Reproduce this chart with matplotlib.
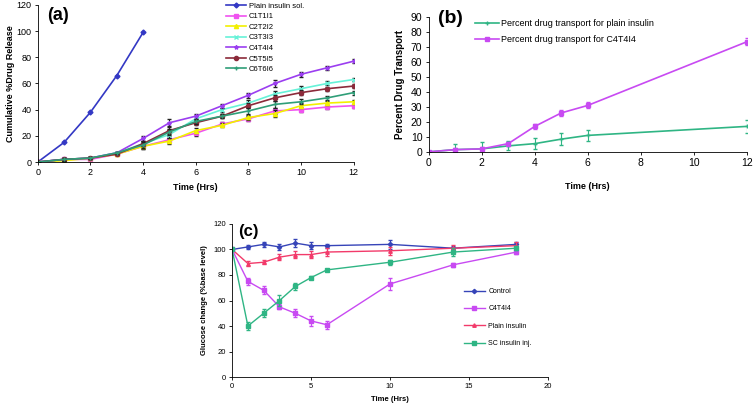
import matplotlib.pyplot as plt

plt.rcParams['font.family'] = ['Liberation Sans', 'DejaVu Sans']

# (a) cumulative release
t_a = [0, 1, 2, 3, 4, 5, 6, 7, 8, 9, 10, 11, 12]
plain_t = [0, 1, 2, 3, 4]
plain_sol = [0, 15, 38, 66, 99]
c1 = [0, 2, 2, 6, 12, 17, 22, 29, 33, 39, 40, 42, 43]
c2 = [0, 1, 3, 6, 12, 16, 24, 28, 34, 37, 43, 45, 46]
c3 = [0, 2, 3, 7, 14, 21, 33, 40, 45, 52, 56, 60, 63]
c4 = [0, 2, 3, 7, 18, 30, 35, 43, 51, 60, 67, 72, 77]
c5 = [0, 2, 3, 6, 14, 24, 30, 35, 43, 49, 53, 56, 58]
c6 = [0, 2, 3, 7, 13, 23, 31, 35, 39, 44, 46, 49, 53]
err_a = [0, 1, 1, 1, 2, 2.5, 2, 1.5, 2, 2.5, 2, 1.5, 1.5]

# (b) drug transport
t_b = [0, 1, 2, 3, 4, 5, 6, 12]
tr_plain = [0, 1.5, 2, 4, 5.5, 8.5, 11, 17]
tr_plain_err = [0, 3.5, 4.5, 3, 3.5, 4, 3.5, 4.5]
tr_c4 = [0, 1.5, 2, 5.5, 17, 26, 31, 73.5]
tr_c4_err = [0, 1, 1, 1, 1.5, 2, 2, 2.5]

# (c) glucose change
t_c = [0, 1, 2, 3, 4, 5, 6, 10, 14, 18]
control = [100, 102, 104, 102, 105, 103, 103, 104, 101, 104]
control_err = [0, 1.5, 2, 2.5, 3, 2.5, 1.5, 3.5, 1.5, 1.5]
gl_c4 = [100, 75, 68, 55, 50, 44, 41, 73, 88, 98]
gl_c4_err = [0, 2.5, 3, 2, 3, 4, 3, 4.5, 1.5, 1.5]
gl_plain = [100, 89, 90, 94, 96, 96, 98, 99, 101, 103]
gl_plain_err = [0, 2, 1.5, 2.5, 2.5, 3, 3, 3, 2.5, 2.5]
gl_sc = [100, 40, 50, 60, 71, 78, 84, 90, 98, 101]
gl_sc_err = [0, 3.5, 3, 4, 3, 1, 1, 2, 3, 1.5]

fig = plt.figure(figsize=(7.56, 4.05), dpi=100)


def style(ax, fs):
    ax.spines['top'].set_visible(False)
    ax.spines['right'].set_visible(False)
    ax.tick_params(labelsize=fs, length=2.5, width=0.6, pad=2)
    for s in ['left', 'bottom']:
        ax.spines[s].set_linewidth(0.6)


def line_err(ax, x, y, err, col, mk, ms, lw, lab, ecol=None):
    ax.errorbar(x, y, yerr=err, fmt='none', ecolor=ecol or col, elinewidth=0.8, capsize=1.5)
    ax.plot(x, y, color=col, marker=mk, ms=ms, lw=lw, label=lab)


# panel a
ax = fig.add_axes([0.050, 0.600, 0.418, 0.388])
ax.plot(plain_t, plain_sol, color='#3338c4', marker='D', ms=2.5, lw=1.2, label='Plain insulin sol.')
series = [
    (c1, '#f052f0', 's', 'C1T1I1'),
    (c2, '#f2f000', '^', 'C2T2I2'),
    (c3, '#66f2d8', 'x', 'C3T3I3'),
    (c4, '#9b3ef0', '*', 'C4T4I4'),
    (c5, '#8b2a3a', 'o', 'C5T5I5'),
    (c6, '#2f9e78', '+', 'C6T6I6'),
]
for ys, col, mk, lab in series:
    line_err(ax, t_a, ys, err_a, col, mk, 3, 1.2, lab, ecol='#222222')
ax.set_xlim(0, 12)
ax.set_ylim(0, 120)
ax.set_xticks(range(0, 13, 2))
ax.set_yticks(range(0, 121, 20))
ax.set_xlabel('Time (Hrs)', fontsize=6.5, fontweight='bold')
ax.set_ylabel('Cumulative %Drug Release', fontsize=6.5, fontweight='bold', labelpad=1)
ax.text(0.03, 0.985, '(a)', transform=ax.transAxes, fontsize=13, fontweight='bold', va='top')
ax.legend(loc='upper left', bbox_to_anchor=(0.585, 1.035), fontsize=5.5, frameon=False,
          handlelength=2.6, handletextpad=0.4, labelspacing=0.42, borderaxespad=0)
style(ax, 6.5)

# panel b
ax = fig.add_axes([0.567, 0.625, 0.421, 0.333])
line_err(ax, t_b, tr_plain, tr_plain_err, '#2fb584', '+', 3, 1.2,
         'Percent drug transport for plain insulin')
line_err(ax, t_b, tr_c4, tr_c4_err, '#c84af2', 's', 2.5, 1.2,
         'Percent drug transport for C4T4I4')
ax.set_xlim(0, 12)
ax.set_ylim(0, 90)
ax.set_xticks(range(0, 13, 2))
ax.set_yticks(range(0, 91, 10))
ax.set_xlabel('Time (Hrs)', fontsize=6.5, fontweight='bold', labelpad=10)
ax.set_ylabel('Percent Drug Transport', fontsize=7, fontweight='bold')
ax.text(0.03, 1.05, '(b)', transform=ax.transAxes, fontsize=14, fontweight='bold', va='top')
ax.legend(loc='upper left', bbox_to_anchor=(0.135, 1.01), fontsize=6.5, frameon=False,
          handlelength=2.6, handletextpad=0.3, labelspacing=0.8, borderaxespad=0)
style(ax, 7.5)

# panel c
ax = fig.add_axes([0.307, 0.069, 0.418, 0.378])
line_err(ax, t_c, control, control_err, '#3644b8', 'D', 2.2, 1.0, 'Control')
line_err(ax, t_c, gl_c4, gl_c4_err, '#c84af2', 's', 2.5, 1.0, 'C4T4I4')
line_err(ax, t_c, gl_plain, gl_plain_err, '#f23a6a', '^', 2.5, 1.0, 'Plain insulin')
line_err(ax, t_c, gl_sc, gl_sc_err, '#2fb584', 's', 2.5, 1.0, 'SC insulin inj.')
ax.set_xlim(0, 20)
ax.set_ylim(0, 120)
ax.set_xticks(range(0, 21, 5))
ax.set_yticks(range(0, 121, 20))
ax.set_xlabel('Time (Hrs)', fontsize=5.5, fontweight='bold')
ax.set_ylabel('Glucose change (%base level)', fontsize=5.5, fontweight='bold')
ax.text(0.02, 1.0, '(c)', transform=ax.transAxes, fontsize=12, fontweight='bold', va='top')
ax.legend(loc='upper left', bbox_to_anchor=(0.725, 0.6), fontsize=5, frameon=False,
          handlelength=3, handletextpad=0.5, labelspacing=1.5, borderaxespad=0)
style(ax, 5.5)

fig.savefig('out.png', dpi=100)
